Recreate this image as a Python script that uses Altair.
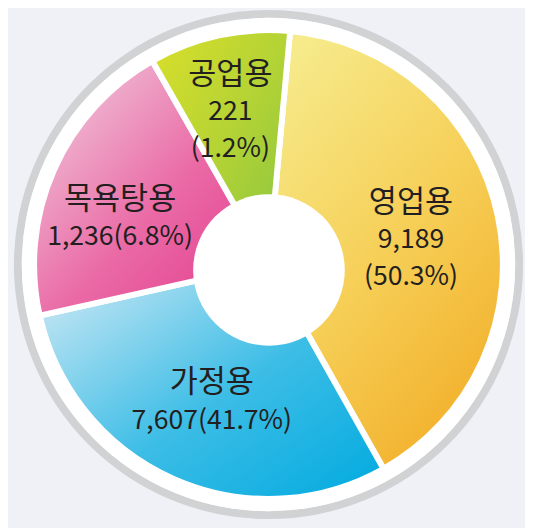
import math
import altair as alt
import pandas as pd

# ---- data ----
categories = ["영업용", "가정용", "목욕탕용", "공업용"]
values = [9189, 7607, 1236, 221]
percents = [50.3, 41.7, 6.8, 1.2]
# angular share of each slice as it is drawn in the picture (degrees)
slice_degrees = [145.3, 106.8, 72.9, 35.0]

# ---- styling / layout ----
START_DEG = 5.3
CX, CY = 264.5, 256.5
HOLE_X, HOLE_Y = 265.0, 262.0
SPLIT_LINES = {"영업용", "공업용"}
FONT = "Noto Sans CJK KR, Noto Sans, sans-serif"
TEXT_COLOR = "#231f20"
LINE_STEP = 37.0

gradients = {
    "영업용": {"x1": 0.2, "y1": 0, "x2": 0.8, "y2": 1,
             "stops": [("#f6ea8a", 0), ("#f6cf57", 0.5), ("#f2ad27", 1)]},
    "가정용": {"x1": 0, "y1": 0, "x2": 1, "y2": 1,
             "stops": [("#d8ecf5", 0), ("#3cbde6", 0.55), ("#00aadf", 1)]},
    "목욕탕용": {"x1": 0, "y1": 0, "x2": 1, "y2": 1,
              "stops": [("#f1d5e2", 0), ("#ea6aa6", 0.55), ("#e2378a", 1)]},
    "공업용": {"x1": 0, "y1": 0, "x2": 1, "y2": 1,
             "stops": [("#dadf2a", 0), ("#b4d335", 0.5), ("#86c441", 1)]},
}
label_offsets = {  # dx, dy of the first line of each label block
    "영업용": (-2, -22),
    "가정용": (3.5, -7.5),
    "목욕탕용": (-13.5, 4),
    "공업용": (-7, -37),
}

ends = pd.Series(slice_degrees).cumsum()
starts = ends - pd.Series(slice_degrees)
line0, line1, line2 = [], [], []
for c, v, p in zip(categories, values, percents):
    line0.append(c)
    if c in SPLIT_LINES:
        line1.append(f"{v:,}")
        line2.append(f"({p}%)")
    else:
        line1.append(f"{v:,}({p}%)")
        line2.append("")

df = pd.DataFrame({
    "category": categories,
    "value": values,
    "percent": percents,
    "start": starts,
    "end": ends,
    "mid": (starts + ends) / 2,
    "line0": line0,
    "line1": line1,
    "line2": line2,
})

off = math.radians(START_DEG)
theta_scale = alt.Scale(domain=[0, 360], range=[off, off + 2 * math.pi])

one = pd.DataFrame({"a": [0]})
gray_ring = alt.Chart(one).mark_arc(
    x=CX, y=CY, theta=0, theta2=2 * math.pi, innerRadius=250.5, outerRadius=258.5
).encode(color=alt.value("#d1d2d4"))
white_disk = alt.Chart(one).mark_arc(
    x=CX, y=CY, theta=0, theta2=2 * math.pi, innerRadius=0, outerRadius=250.5
).encode(color=alt.value("white"))

layers = [gray_ring, white_disk]
for c in categories:
    g = gradients[c]
    fill = {
        "gradient": "linear", "x1": g["x1"], "y1": g["y1"], "x2": g["x2"], "y2": g["y2"],
        "stops": [{"color": col, "offset": o} for col, o in g["stops"]],
    }
    layers.append(
        alt.Chart(df).transform_filter(alt.datum.category == c).mark_arc(
            x=CX, y=CY, innerRadius=0, outerRadius=238, fill=fill,
            stroke="white", strokeWidth=6, strokeJoin="round"
        ).encode(
            theta=alt.Theta("start:Q", scale=theta_scale, stack=False),
            theta2="end:Q",
        )
    )

hole = alt.Chart(one).mark_arc(
    x=HOLE_X, y=HOLE_Y, theta=0, theta2=2 * math.pi, innerRadius=0, outerRadius=77
).encode(color=alt.value("white"))
layers.append(hole)

line_sizes = {"line0": 31, "line1": 27, "line2": 27}
for c in categories:
    dx, dy = label_offsets[c]
    nlines = 3 if c in SPLIT_LINES else 2
    for i, field in enumerate(["line0", "line1", "line2"][:nlines]):
        layers.append(
            alt.Chart(df).transform_filter(alt.datum.category == c).mark_text(
                x=CX, y=CY, radius=150, dx=dx, dy=dy + i * LINE_STEP,
                align="center", baseline="alphabetic",
                font=FONT, fontSize=line_sizes[field], color=TEXT_COLOR
            ).encode(
                theta=alt.Theta("mid:Q", scale=theta_scale, stack=False),
                text=f"{field}:N",
            )
        )

chart = alt.layer(*layers).properties(
    width=525, height=520, padding=0, autosize="none", background="#eff1f6"
).configure_view(stroke=None)

chart.save("out.html", embed_options={"renderer": "svg", "actions": False})
